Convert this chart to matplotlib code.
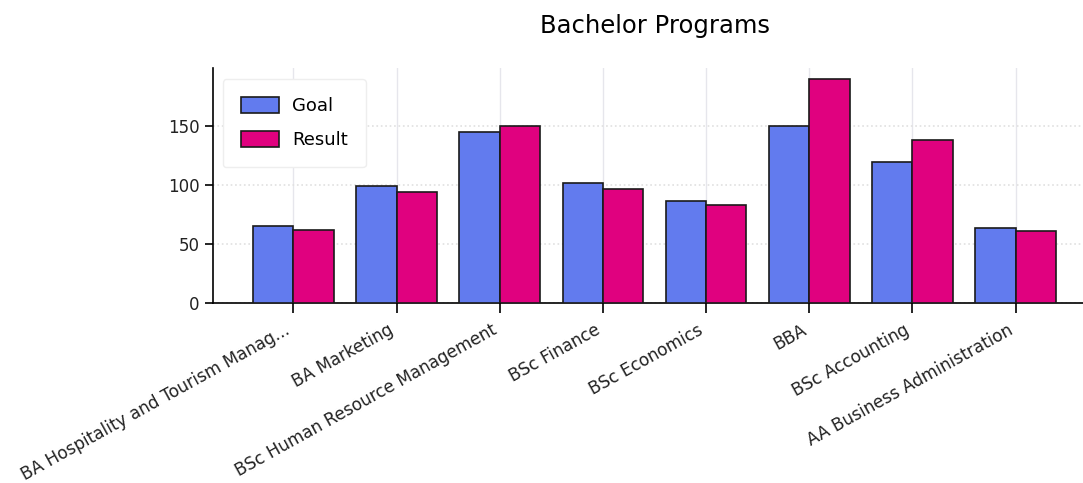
import numpy as np
import matplotlib
matplotlib.use("Agg")
import matplotlib.pyplot as plt

# chart data
programs = [
    "BA Hospitality and Tourism Manag...",
    "BA Marketing",
    "BSc Human Resource Management",
    "BSc Finance",
    "BSc Economics",
    "BBA",
    "BSc Accounting",
    "AA Business Administration",
]
goal = [65, 99, 145, 102, 87, 150, 120, 64]
result = [62, 94, 150, 97, 83, 190, 138, 61]

# figure with axes running slightly past the right edge (as in the reference)
fig = plt.figure(figsize=(10.83, 4.83), dpi=100)
ax = fig.add_axes([213 / 1083, 180 / 483, 883 / 1083, 235 / 483])

x = np.arange(len(programs))
w = 0.39
ax.bar(x - w / 2, goal, w, color="#627BEE", edgecolor="#1a1a1a", linewidth=1.2, label="Goal", zorder=3)
ax.bar(x + w / 2, result, w, color="#E0017F", edgecolor="#1a1a1a", linewidth=1.2, label="Result", zorder=3)

ax.set_xticks(x)
ax.set_xticklabels(programs, rotation=29, ha="right", fontsize=12.2, color="#222222")
ax.set_yticks([0, 50, 100, 150])
ax.tick_params(axis="y", labelsize=12, labelcolor="#222222", length=6)
ax.tick_params(axis="x", length=7, pad=6)
ax.tick_params(axis="both", width=1.2)

# grid: solid light verticals, dotted light horizontals
ax.grid(axis="x", color="#e6e6ec", linewidth=1, zorder=0)
ax.grid(axis="y", color="#e0e0e0", linestyle=":", linewidth=1.2, zorder=0)

for s in ["top", "right"]:
    ax.spines[s].set_visible(False)
for s in ["left", "bottom"]:
    ax.spines[s].set_linewidth(1.2)

ax.set_title("Bachelor Programs", fontsize=17.5, pad=25)
ax.legend(loc="upper left", fontsize=13, borderpad=1.0, handlelength=2.1, handleheight=0.95,
          handletextpad=0.75, labelspacing=0.9, framealpha=1, edgecolor="#eeeeee",
          borderaxespad=0, bbox_to_anchor=(0.011, 0.953))

fig.savefig("out.png", dpi=100)
